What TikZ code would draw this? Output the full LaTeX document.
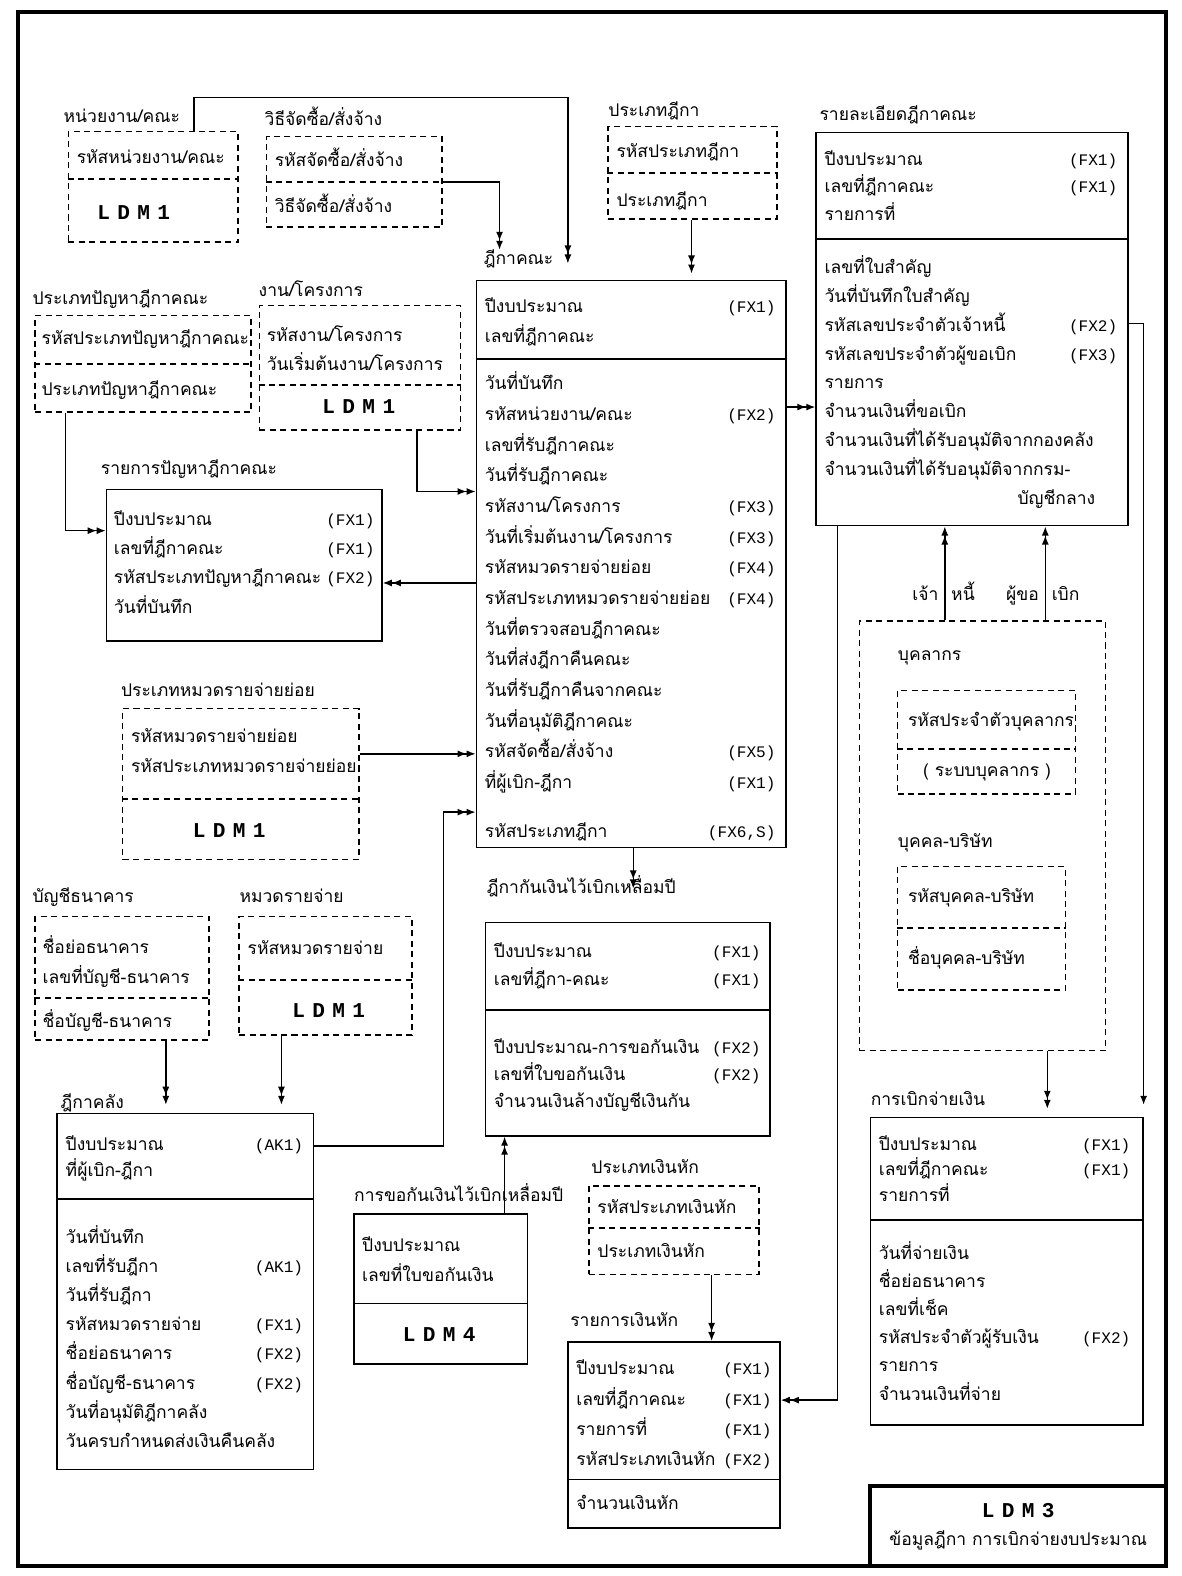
\documentclass[tikz,border=0pt]{standalone}
\usepackage{fontspec}
\setmainfont[Script=Thai]{Loma}
\newfontfamily\codefont{Liberation Mono}
\newfontfamily\ldmfont[LetterSpace=35]{Liberation Mono}
\usetikzlibrary{arrows.meta,fit}

\begin{document}
\begin{tikzpicture}[x=0.5pt, y=-0.5pt,
    every node/.style={font=\fontsize{8.7}{10.5}\selectfont},
    ent/.style={draw, line width=0.8pt, inner sep=0pt},
    refbox/.style={draw, line width=0.8pt, dash pattern=on 3pt off 2.2pt, inner sep=0pt},
    frame/.style={draw, line width=2pt, inner sep=0pt},
    sepd/.style={line width=0.8pt, dash pattern=on 3pt off 2.2pt},
    sepl/.style={line width=0.8pt},
    ttl/.style={anchor=west, inner sep=0pt, text height=7pt, text depth=2pt},
    lbl/.style={anchor=west, inner sep=0pt, text height=7pt, text depth=2pt},
    fx/.style={anchor=east, inner sep=0pt, text height=7pt, text depth=2pt, font=\codefont\fontsize{8}{10}\selectfont},
    ldm/.style={inner sep=0pt, font=\ldmfont\fontsize{10.5}{12}\selectfont\bfseries},
    conn/.style={line width=0.7pt},
    dbl/.style={conn, -{Latex[length=4.5pt,width=3.5pt]Latex[length=4.5pt,width=3.5pt]}},
    sgl/.style={conn, -{Latex[length=4.5pt,width=3.5pt]}}]
    \useasboundingbox (0,0) rectangle (1176,1568);

    % Frame
    \node[frame, fit={(18,12) (1160,1558)}] (frame) {};

    % หน่วยงาน/คณะ
    \node[ttl] (unitt) at (63,117) {หน่วยงาน/คณะ};
    \node[refbox, fit={(68,131) (237,241)}] (unit) {};
    \draw[sepd] (unit.west |- 0,178) -- (unit.east |- 0,178);
    \node[lbl] (unit1) at (76,158) {รหัสหน่วยงาน/คณะ};
    \node[ldm] (unitl) at (133,211) {LDM1};

    % วิธีจัดซื้อ/สั่งจ้าง
    \node[ttl] (proct) at (263,120) {วิธีจัดซื้อ/สั่งจ้าง};
    \node[refbox, fit={(265,136) (440,226)}] (proc) {};
    \draw[sepd] (proc.west |- 0,181) -- (proc.east |- 0,181);
    \node[lbl] (proc1) at (273,161) {รหัสจัดซื้อ/สั่งจ้าง};
    \node[lbl] (proc2) at (273,206) {วิธีจัดซื้อ/สั่งจ้าง};

    % ประเภทฎีกา
    \node[ttl] (ftypet) at (605,111) {ประเภทฎีกา};
    \node[refbox, fit={(605,126) (773,218)}] (ftype) {};
    \draw[sepd] (ftype.west |- 0,172) -- (ftype.east |- 0,172);
    \node[lbl] (ftype1) at (613,152) {รหัสประเภทฎีกา};
    \node[lbl] (ftype2) at (613,200) {ประเภทฎีกา};

    % ฎีกาคณะ
    \node[ttl] (kct) at (481,258) {ฎีกาคณะ};
    \node[ent, fit={(474,279) (782,843)}] (kc) {};
    \draw[sepl] (kc.west |- 0,357) -- (kc.east |- 0,357);
    \node[lbl] (kck1) at (482,306) {ปีงบประมาณ};
    \node[lbl] (kck2) at (482,336) {เลขที่ฎีกาคณะ};
    \node[fx] (kckf1) at (772,306) {(FX1)};
    \foreach \t [count=\i] in {วันที่บันทึก, รหัสหน่วยงาน/คณะ, เลขที่รับฎีกาคณะ, วันที่รับฎีกาคณะ, รหัสงาน/โครงการ, วันที่เริ่มต้นงาน/โครงการ, รหัสหมวดรายจ่ายย่อย, รหัสประเภทหมวดรายจ่ายย่อย, วันที่ตรวจสอบฎีกาคณะ, วันที่ส่งฎีกาคืนคณะ, วันที่รับฎีกาคืนจากคณะ, วันที่อนุมัติฎีกาคณะ, รหัสจัดซื้อ/สั่งจ้าง, ที่ผู้เบิก-ฎีกา}
        \node[lbl] (kcb\i) at (482,{383+30.5*(\i-1)}) {\t};
    \node[lbl] (kcb15) at (482,828) {รหัสประเภทฎีกา};
    \foreach \r/\f in {2/FX2, 5/FX3, 6/FX3, 7/FX4, 8/FX4, 13/FX5, 14/FX1}
        \node[fx] (kcf\r) at (772,0 |- kcb\r) {(\f)};
    \node[fx] (kcf15) at (772,828) {(FX6,S)};

    % รายละเอียดฎีกาคณะ
    \node[ttl] (dett) at (815,115) {รายละเอียดฎีกาคณะ};
    \node[ent, fit={(812,132) (1122,523)}] (det) {};
    \draw[sepl] (det.west |- 0,238) -- (det.east |- 0,238);
    \foreach \t [count=\i] in {ปีงบประมาณ, เลขที่ฎีกาคณะ, รายการที่}
        \node[lbl] (detk\i) at (820,{160+27*(\i-1)}) {\t};
    \node[fx] (detkf1) at (1112,0 |- detk1) {(FX1)};
    \node[fx] (detkf2) at (1112,0 |- detk2) {(FX1)};
    \foreach \t [count=\i] in {เลขที่ใบสำคัญ, วันที่บันทึกใบสำคัญ, รหัสเลขประจำตัวเจ้าหนี้, รหัสเลขประจำตัวผู้ขอเบิก, รายการ, จำนวนเงินที่ขอเบิก, จำนวนเงินที่ได้รับอนุมัติจากกองคลัง, จำนวนเงินที่ได้รับอนุมัติจากกรม-}
        \node[lbl] (detb\i) at (820,{267+28.75*(\i-1)}) {\t};
    \node[lbl] (detb9) at (1012,497) {บัญชีกลาง};
    \node[fx] (detf3) at (1112,0 |- detb3) {(FX2)};
    \node[fx] (detf4) at (1112,0 |- detb4) {(FX3)};

    % ประเภทปัญหาฎีกาคณะ
    \node[ttl] (ptypet) at (32,298) {ประเภทปัญหาฎีกาคณะ};
    \node[refbox, fit={(35,314) (250,410)}] (ptype) {};
    \draw[sepd] (ptype.west |- 0,362) -- (ptype.east |- 0,362);
    \node[lbl] (ptype1) at (41,338) {รหัสประเภทปัญหาฎีกาคณะ};
    \node[lbl] (ptype2) at (41,388) {ประเภทปัญหาฎีกาคณะ};

    % งาน/โครงการ
    \node[ttl] (projt) at (257,290) {งาน/โครงการ};
    \node[refbox, fit={(258,304) (458,428)}] (proj) {};
    \draw[sepd] (proj.west |- 0,383) -- (proj.east |- 0,383);
    \node[lbl] (proj1) at (265,335) {รหัสงาน/โครงการ};
    \node[lbl] (proj2) at (265,364) {วันเริ่มต้นงาน/โครงการ};
    \node[ldm] (projl) at (357,404) {LDM1};

    % รายการปัญหาฎีกาคณะ
    \node[ttl] (probt) at (100,467) {รายการปัญหาฎีกาคณะ};
    \node[ent, fit={(106,487) (380,638)}] (prob) {};
    \foreach \t [count=\i] in {ปีงบประมาณ, เลขที่ฎีกาคณะ, รหัสประเภทปัญหาฎีกาคณะ, วันที่บันทึก}
        \node[lbl] (prob\i) at (113,{518+29*(\i-1)}) {\t};
    \foreach \r/\f in {1/FX1, 2/FX1, 3/FX2}
        \node[fx] (probf\r) at (373,0 |- prob\r) {(\f)};

    % ประเภทหมวดรายจ่ายย่อย
    \node[ttl] (subt) at (120,688) {ประเภทหมวดรายจ่ายย่อย};
    \node[refbox, fit={(122,705) (357,855)}] (sub) {};
    \draw[sepd] (sub.west |- 0,795) -- (sub.east |- 0,795);
    \node[lbl] (sub1) at (130,734) {รหัสหมวดรายจ่ายย่อย};
    \node[lbl] (sub2) at (130,764) {รหัสประเภทหมวดรายจ่ายย่อย};
    \node[ldm] (subl) at (228,826) {LDM1};

    % บัญชีธนาคาร
    \node[ttl] (bankt) at (32,893) {บัญชีธนาคาร};
    \node[refbox, fit={(35,912) (208,1035)}] (bank) {};
    \draw[sepd] (bank.west |- 0,993) -- (bank.east |- 0,993);
    \node[lbl] (bank1) at (42,944) {ชื่อย่อธนาคาร};
    \node[lbl] (bank2) at (42,973) {เลขที่บัญชี-ธนาคาร};
    \node[lbl] (bank3) at (42,1017) {ชื่อบัญชี-ธนาคาร};

    % หมวดรายจ่าย
    \node[ttl] (expt) at (238,893) {หมวดรายจ่าย};
    \node[refbox, fit={(238,912) (410,1030)}] (exp) {};
    \draw[sepd] (exp.west |- 0,975) -- (exp.east |- 0,975);
    \node[lbl] (exp1) at (246,945) {รหัสหมวดรายจ่าย};
    \node[ldm] (expl) at (327,1005) {LDM1};

    % ฎีกาคลัง
    \node[ttl] (trst) at (60,1098) {ฎีกาคลัง};
    \node[ent, fit={(57,1108) (312,1462)}] (trs) {};
    \draw[sepl] (trs.west |- 0,1193) -- (trs.east |- 0,1193);
    \node[lbl] (trsk1) at (65,1140) {ปีงบประมาณ};
    \node[lbl] (trsk2) at (65,1166) {ที่ผู้เบิก-ฎีกา};
    \node[fx] (trskf1) at (302,1140) {(AK1)};
    \foreach \t [count=\i] in {วันที่บันทึก, เลขที่รับฎีกา, วันที่รับฎีกา, รหัสหมวดรายจ่าย, ชื่อย่อธนาคาร, ชื่อบัญชี-ธนาคาร, วันที่อนุมัติฎีกาคลัง, วันครบกำหนดส่งเงินคืนคลัง}
        \node[lbl] (trsb\i) at (65,{1232+29*(\i-1)}) {\t};
    \foreach \r/\f in {2/AK1, 4/FX1, 5/FX2, 6/FX2}
        \node[fx] (trsf\r) at (302,0 |- trsb\r) {(\f)};

    % ฎีกากันเงินไว้เบิกเหลื่อมปี
    \node[ttl] (carryt) at (484,884) {ฎีกากันเงินไว้เบิกเหลื่อมปี};
    \node[ent, fit={(483,918) (766,1130)}] (carry) {};
    \draw[sepl] (carry.west |- 0,1005) -- (carry.east |- 0,1005);
    \node[lbl] (carryk1) at (491,948) {ปีงบประมาณ};
    \node[lbl] (carryk2) at (491,975) {เลขที่ฎีกา-คณะ};
    \foreach \t [count=\i] in {ปีงบประมาณ-การขอกันเงิน, เลขที่ใบขอกันเงิน, จำนวนเงินล้างบัญชีเงินกัน}
        \node[lbl] (carryb\i) at (491,{1043+27*(\i-1)}) {\t};
    \node[fx] (carrykf1) at (757,0 |- carryk1) {(FX1)};
    \node[fx] (carrykf2) at (757,0 |- carryk2) {(FX1)};
    \node[fx] (carryf1) at (757,0 |- carryb1) {(FX2)};
    \node[fx] (carryf2) at (757,0 |- carryb2) {(FX2)};

    % การขอกันเงินไว้เบิกเหลื่อมปี
    \node[ttl] (resvt) at (352,1190) {การขอกันเงินไว้เบิกเหลื่อมปี};
    \node[ent, fit={(352,1208) (525,1357)}] (resv) {};
    \draw[sepl] (resv.west |- 0,1297) -- (resv.east |- 0,1297);
    \node[lbl] (resv1) at (360,1240) {ปีงบประมาณ};
    \node[lbl] (resv2) at (360,1270) {เลขที่ใบขอกันเงิน};
    \node[ldm] (resvl) at (437,1328) {LDM4};

    % ประเภทเงินหัก
    \node[ttl] (dedtt) at (588,1163) {ประเภทเงินหัก};
    \node[refbox, fit={(586,1180) (755,1268)}] (dedt) {};
    \draw[sepd] (dedt.west |- 0,1222) -- (dedt.east |- 0,1222);
    \node[lbl] (dedt1) at (594,1202) {รหัสประเภทเงินหัก};
    \node[lbl] (dedt2) at (594,1246) {ประเภทเงินหัก};

    % รายการเงินหัก
    \node[ttl] (dedlt) at (567,1315) {รายการเงินหัก};
    \node[ent, fit={(565,1335) (776,1520)}] (dedl) {};
    \draw[sepl] (dedl.west |- 0,1472) -- (dedl.east |- 0,1472);
    \foreach \t [count=\i] in {ปีงบประมาณ, เลขที่ฎีกาคณะ, รายการที่, รหัสประเภทเงินหัก}
        \node[lbl] (dedl\i) at (573,{1363+30*(\i-1)}) {\t};
    \foreach \r/\f in {1/FX1, 2/FX1, 3/FX1, 4/FX2}
        \node[fx] (dedlf\r) at (768,0 |- dedl\r) {(\f)};
    \node[lbl] (dedl5) at (573,1497) {จำนวนเงินหัก};

    % การเบิกจ่ายเงิน
    \node[ttl] (payt) at (866,1095) {การเบิกจ่ายเงิน};
    \node[ent, fit={(866,1112) (1137,1418)}] (pay) {};
    \draw[sepl] (pay.west |- 0,1214) -- (pay.east |- 0,1214);
    \foreach \t [count=\i] in {ปีงบประมาณ, เลขที่ฎีกาคณะ, รายการที่}
        \node[lbl] (payk\i) at (874,{1140+25*(\i-1)}) {\t};
    \node[fx] (paykf1) at (1125,0 |- payk1) {(FX1)};
    \node[fx] (paykf2) at (1125,0 |- payk2) {(FX1)};
    \foreach \t [count=\i] in {วันที่จ่ายเงิน, ชื่อย่อธนาคาร, เลขที่เช็ค, รหัสประจำตัวผู้รับเงิน, รายการ, จำนวนเงินที่จ่าย}
        \node[lbl] (payb\i) at (874,{1248+28*(\i-1)}) {\t};
    \node[fx] (payf4) at (1125,0 |- payb4) {(FX2)};

    % ผู้รับเงิน
    \node[refbox, fit={(855,618) (1100,1045)}] (payee) {};
    \node[ttl] (stafft) at (893,652) {บุคลากร};
    \node[refbox, fit={(893,687) (1070,790)}] (staff) {};
    \draw[sepd] (staff.west |- 0,745) -- (staff.east |- 0,745);
    \node[lbl] (staff1) at (903,718) {รหัสประจำตัวบุคลากร};
    \node[inner sep=0pt] (staff2) at (982,768) {( ระบบบุคลากร )};
    \node[ttl] (firmt) at (893,838) {บุคคล-บริษัท};
    \node[refbox, fit={(893,862) (1060,985)}] (firm) {};
    \draw[sepd] (firm.west |- 0,923) -- (firm.east |- 0,923);
    \node[lbl] (firm1) at (903,893) {รหัสบุคคล-บริษัท};
    \node[lbl] (firm2) at (903,955) {ชื่อบุคคล-บริษัท};
    \node[lbl, anchor=east] (credl) at (934,592) {เจ้า};
    \node[lbl] (credr) at (946,592) {หนี้};
    \node[lbl, anchor=east] (reql) at (1034,592) {ผู้ขอ};
    \node[lbl] (reqr) at (1046,592) {เบิก};

    % LDM3
    \node[frame, fit={(866,1478) (1160,1558)}] (legend) {};
    \node[ldm] (legend1) at (1013,1503) {LDM3};
    \node[inner sep=0pt] (legend2) at (1013,1533) {ข้อมูลฎีกา การเบิกจ่ายงบประมาณ};

    % Connectors
    \coordinate (ubend) at (565,97);
    \draw[dbl, shorten >=8pt] (193,0 |- unit.north) |- (ubend) -- (ubend |- kc.north);
    \draw[dbl] (proc.east) -| (497,0 |- kct.north);
    \draw[dbl, shorten >=3pt] (688,0 |- ftype.south) -- (688,0 |- kc.north);
    \draw[dbl] (415,0 |- proj.south) |- (kc.west |- 0,489);
    \draw[dbl] (65,0 |- ptype.south) |- (prob.west |- 0,528);
    \draw[dbl] (kc.west |- 0,580) -- (prob.east |- 0,580);
    \draw[dbl] (sub.east |- 0,750) -- (kc.west |- 0,750);
    \coordinate (tbend) at (441,808);
    \draw[dbl] (trs.east |- 0,1140) -| (tbend) -- (kc.west |- tbend);
    \draw[dbl] (kc.east |- 0,405) -- (det.west |- 0,405);
    \draw[dbl] (630,0 |- kc.south) -- (630,0 |- carryt.center);
    \draw[dbl] (502,0 |- resv.north) -- (502,0 |- carry.south);
    \draw[dbl, shorten >=4pt] (165,0 |- bank.south) -- (165,0 |- trs.north);
    \draw[dbl, shorten >=4pt] (280,0 |- exp.south) -- (280,0 |- trs.north);
    \draw[dbl] (708,0 |- dedt.south) -- (708,0 |- dedl.north);
    \draw[dbl] (833,0 |- det.south) |- (dedl.east |- 0,1393);
    \draw[sgl, shorten >=6pt] (det.east |- 0,322) -| (pay.north east);
    \draw[dbl] (940,0 |- payee.north) -- (940,0 |- det.south);
    \draw[dbl] (1040,0 |- payee.north) -- (1040,0 |- det.south);
    \draw[dbl, shorten >=4pt] (1042,0 |- payee.south) -- (1042,0 |- pay.north);
\end{tikzpicture}
\end{document}
